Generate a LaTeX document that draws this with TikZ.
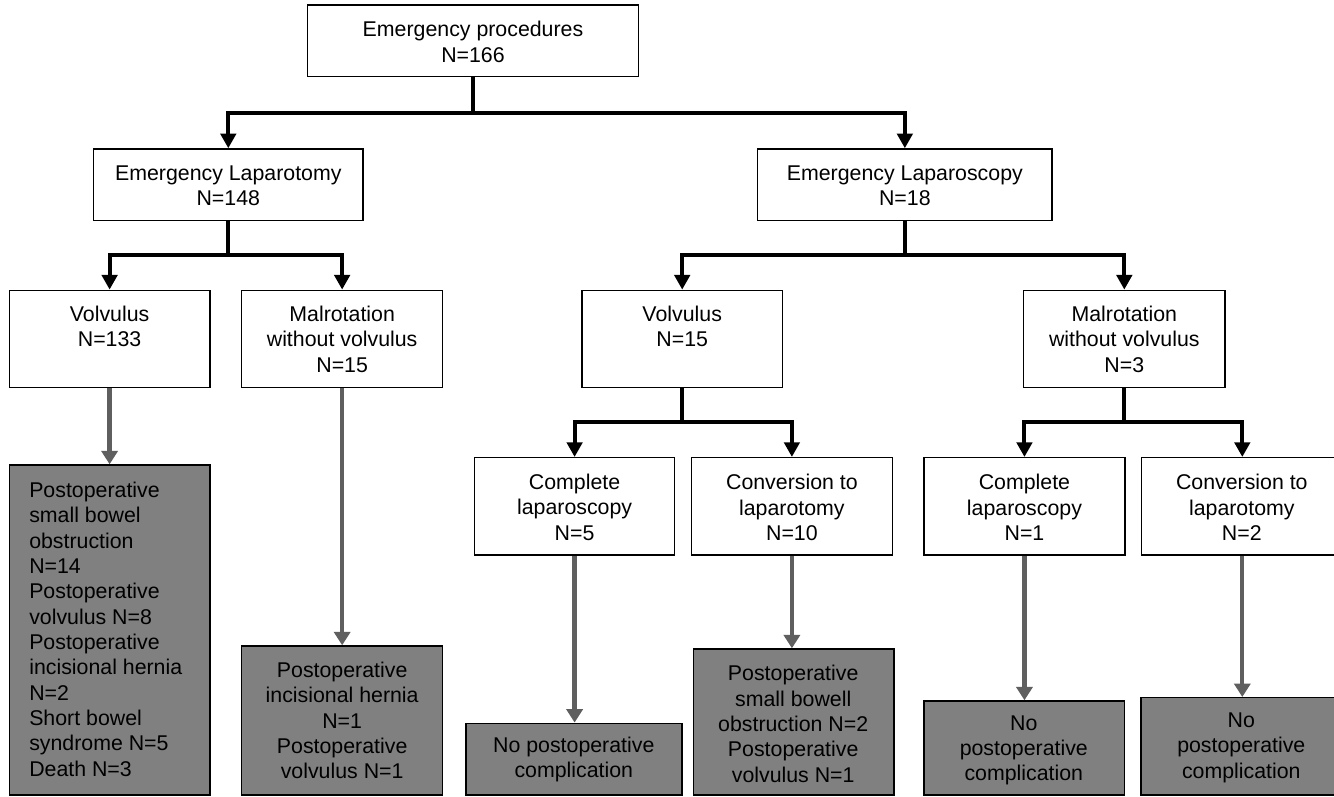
\documentclass[tikz,border=0pt]{standalone}
\usepackage{fontspec}
\setmainfont{Liberation Sans}
\usetikzlibrary{arrows.meta}
\definecolor{boxgrey}{HTML}{808080}
\definecolor{arrgrey}{HTML}{5F5F5F}
\begin{document}
\begin{tikzpicture}[x=0.75pt,y=-0.75pt,
  box/.style={draw=black, line width=1.1pt, fill=white, inner sep=0pt},
  gbox/.style={box, fill=boxgrey},
  txt/.style={align=center, inner sep=0pt, font=\fontsize{16}{19}\selectfont},
  ltxt/.style={align=left, inner sep=0pt, anchor=west, font=\fontsize{16}{19}\selectfont},
  blk/.style={draw=black, line width=3pt, -{Triangle[length=11pt,width=11.5pt]}},
  gry/.style={draw=arrgrey, line width=3.2pt, -{Triangle[length=10pt,width=12pt]}}
]
\clip (0,0) rectangle (1334,796);
\fill[white] (0,0) rectangle (1334,796);

% white boxes
\node[box, minimum width=248pt, minimum height=53.8pt] (top) at (473,40.85) {};
\node[box, minimum width=202pt, minimum height=53.5pt] (elap) at (228.3,184.65) {};
\node[box, minimum width=220.9pt, minimum height=53.5pt] (elsc) at (904.85,184.65) {};
\node[box, minimum width=150.3pt, minimum height=73pt] (vol1) at (109.6,339) {};
\node[box, minimum width=150.7pt, minimum height=73pt] (mal1) at (342.15,339) {};
\node[box, minimum width=150.2pt, minimum height=73pt] (vol2) at (682.2,339) {};
\node[box, minimum width=150.9pt, minimum height=73pt] (mal2) at (1124.3,339) {};
\node[box, minimum width=150.2pt, minimum height=73pt] (cl5) at (574.6,506.35) {};
\node[box, minimum width=150.9pt, minimum height=73pt] (cv10) at (791.9,506.35) {};
\node[box, minimum width=150.7pt, minimum height=73pt] (cl1) at (1024.45,506.35) {};
\node[box, minimum width=150.9pt, minimum height=73pt] (cv2) at (1242.3,506.35) {};

% grey boxes
\node[gbox, minimum width=150.3pt, minimum height=247.5pt] (g1) at (109.6,630) {};
\node[gbox, minimum width=150.7pt, minimum height=111.75pt] (g2) at (342.15,720.5) {};
\node[gbox, minimum width=162pt, minimum height=53.8pt] (g3) at (574,759.15) {};
\node[gbox, minimum width=150.3pt, minimum height=109.5pt] (g4) at (793.6,722) {};
\node[gbox, minimum width=150.5pt, minimum height=70.5pt] (g5) at (1024.3,748) {};
\node[gbox, minimum width=150.75pt, minimum height=73pt] (g6) at (1241.5,746.35) {};

% texts
\node[txt] (topt) at (473,42) {Emergency procedures\\N=166};
\node[txt] (elapt) at (228.3,185.8) {Emergency Laparotomy\\N=148};
\node[txt] (elsct) at (904.85,185.8) {Emergency Laparoscopy\\N=18};
\node[txt] (vol1t) at (109.6,326.5) {Volvulus\\N=133};
\node[txt] (mal1t) at (342.15,339.3) {Malrotation\\without volvulus\\N=15};
\node[txt] (vol2t) at (682.2,326.5) {Volvulus\\N=15};
\node[txt] (mal2t) at (1124.3,339.3) {Malrotation\\without volvulus\\N=3};
\node[txt] (cl5t) at (574.6,507.3) {Complete\\laparoscopy\\N=5};
\node[txt] (cv10t) at (791.9,507.5) {Conversion to\\laparotomy\\N=10};
\node[txt] (cl1t) at (1024.45,507.5) {Complete\\laparoscopy\\N=1};
\node[txt] (cv2t) at (1241.8,507.5) {Conversion to\\laparotomy\\N=2};

\node[ltxt] (g1t) at (29,629.2) {Postoperative\\small bowel\\obstruction\\N=14\\Postoperative\\volvulus N=8\\Postoperative\\incisional hernia\\N=2\\Short bowel\\syndrome N=5\\Death N=3};
\node[txt] (g2t) at (342.15,720.5) {Postoperative\\incisional hernia\\N=1\\Postoperative\\volvulus N=1};
\node[txt] (g3t) at (573.8,759.3) {No postoperative\\complication};
\node[txt] (g4t) at (793.2,723.8) {Postoperative\\small bowell\\obstruction N=2\\Postoperative\\volvulus N=1};
\node[txt] (g5t) at (1023.8,750.5) {No\\postoperative\\complication};
\node[txt] (g6t) at (1241.3,747.8) {No\\postoperative\\complication};

% black connectors
\coordinate (j0) at (473,113.3);
\draw[blk] (top.south) -- (j0) -| (elap.north);
\draw[blk] (j0) -| (elsc.north);
\coordinate (j1) at (228.3,255);
\draw[blk] (elap.south) -- (j1) -| (vol1.north);
\draw[blk] (j1) -| (mal1.north);
\coordinate (j2) at (904.85,255);
\draw[blk] (elsc.south) -- (j2) -| (vol2.north);
\draw[blk] (j2) -| (mal2.north);
\coordinate (j3) at (682.2,421.7);
\draw[blk] (vol2.south) -- (j3) -| (cl5.north);
\draw[blk] (j3) -| (cv10.north);
\coordinate (j4) at (1124.3,421.7);
\draw[blk] (mal2.south) -- (j4) -| (cl1.north);
\draw[blk] (j4) -| (cv2.north);

% grey connectors
\draw[gry] (vol1.south) -- (vol1.south |- g1.north);
\draw[gry] (mal1.south) -- (mal1.south |- g2.north);
\draw[gry] (cl5.south) -- (cl5.south |- g3.north);
\draw[gry] (cv10.south) -- (cv10.south |- g4.north);
\draw[gry] (cl1.south) -- (cl1.south |- g5.north);
\draw[gry] (cv2.south) -- (cv2.south |- g6.north);
\end{tikzpicture}
\end{document}
